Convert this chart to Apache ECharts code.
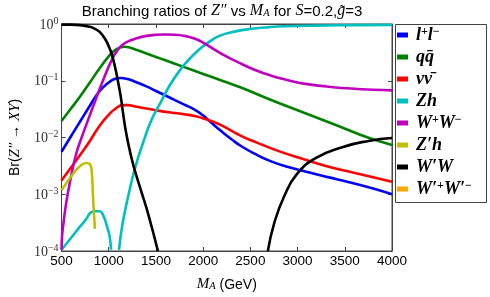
<!DOCTYPE html>
<html>
<head>
<meta charset="utf-8">
<script src="https://cdn.jsdelivr.net/npm/echarts@6/dist/echarts.min.js"></script>
<style>html,body{margin:0;padding:0;background:#fff}#c{width:490px;height:297px}</style>
</head>
<body>
<div id="c"></div>
<script>
// ---- data ----
const seriesNames = ['l+l-', 'qq', 'nn', 'Zh', 'W+W-', "Z'h", "W'W", "W'+W'-"];
const xTicks = [500, 1000, 1500, 2000, 2500, 3000, 3500, 4000];
const yTicks = [1e-4, 1e-3, 1e-2, 1e-1, 1];

const llMass = [500,600,700,800,900,1000,1060,1127,1200,1300,1400,1500,1600,1700,1800,1900,2000,2100,2200,2300,2400,2550,2720,2900,3062,3250,3405,3600,3800,4000];
const llBR   = [0.00562,0.0105,0.0195,0.0363,0.0646,0.0933,0.107,0.112,0.107,0.0933,0.0794,0.0661,0.0550,0.0457,0.0380,0.0316,0.0245,0.0174,0.0126,0.00933,0.00708,0.00513,0.00380,0.00302,0.00257,0.00214,0.00186,0.00155,0.00126,0.00100];

const qqMass = [500,600,700,800,900,1000,1075,1170,1230,1300,1400,1500,1600,1800,2000,2200,2400,2720,3062,3405,3645,3800,4000];
const qqBR   = [0.0195,0.0324,0.0537,0.0933,0.162,0.269,0.355,0.398,0.380,0.347,0.302,0.263,0.229,0.174,0.132,0.100,0.0759,0.0457,0.0275,0.0166,0.0115,0.00933,0.00741];

const nnMass = [500,600,700,800,900,1000,1074,1150,1200,1300,1400,1500,1660,1800,1932,2034,2100,2200,2400,2568,2800,3082,3300,3596,3800,4000];
const nnBR   = [0.00174,0.00295,0.00501,0.00871,0.0158,0.0251,0.0324,0.0372,0.0372,0.0347,0.0324,0.0302,0.0275,0.0257,0.0234,0.0209,0.0191,0.0162,0.0107,0.00813,0.00575,0.00407,0.00316,0.00240,0.00200,0.00166];

const zhMass = [500,596,732,853,900,938,989,1010,1024,1060,1109,1143,1212,1280,1366,1450,1550,1650,1760,1863,1950,2034,2171,2343,2514,2700,2857,3200,3600,4000];
const zhBR   = [0.000105,0.000166,0.000316,0.000501,0.000501,0.000437,0.000245,0.000178,0.000105,'-',0.000105,0.000282,0.00102,0.00295,0.00832,0.0200,0.0417,0.0851,0.158,0.251,0.347,0.447,0.617,0.741,0.822,0.881,0.912,0.938,0.955,0.966];

const wwMass = [500,505,520,545,585,653,722,835,938,1041,1100,1143,1200,1281,1400,1500,1590,1700,1800,1898,1980,2060,2200,2377,2550,2720,2900,3062,3250,3405,3600,3800,4000];
const wwBR   = [0.000105,0.000178,0.000302,0.000631,0.00151,0.00501,0.0110,0.0355,0.100,0.251,0.355,0.427,0.490,0.550,0.617,0.646,0.653,0.646,0.617,0.562,0.490,0.407,0.295,0.209,0.155,0.123,0.102,0.0891,0.0813,0.0759,0.0724,0.0692,0.0676];

const zphMass = [500,596,698,767,801,819,835,853];
const zphBR   = [0.00117,0.00200,0.00316,0.00355,0.00339,0.00257,0.000794,0.000245];

const wpwMass = [500,600,700,800,860,904,960,1007,1040,1075,1100,1127,1150,1177,1212,1250,1290,1350,1418,1521,2100,2685,2754,2857,2990,3196,3473,3751,4000];
const wpwBR   = [0.973,0.973,0.955,0.891,0.813,0.724,0.550,0.380,0.263,0.151,0.0933,0.0525,0.0282,0.0141,0.00708,0.00380,0.00219,0.00105,0.000447,0.000100,'-',0.000100,0.000316,0.000912,0.00224,0.00437,0.00676,0.00871,0.00977];

const wpwpMass = [];
const wpwpBR   = [];

const colors = ['#0000ff', '#008000', '#ff0000', '#00bfbf', '#bf00bf', '#bfbf00', '#000000', '#ffa500'];

// ---- build ----
function zip(a, b) { return a.map((m, i) => [m, b[i]]); }
const dataSets = [zip(llMass, llBR), zip(qqMass, qqBR), zip(nnMass, nnBR), zip(zhMass, zhBR),
                  zip(wwMass, wwBR), zip(zphMass, zphBR), zip(wpwMass, wpwBR), zip(wpwpMass, wpwpBR)];

const legendRich = {
  i: { fontFamily: 'Liberation Serif', fontStyle: 'italic', fontWeight: 'bold', fontSize: 18, lineHeight: 18, verticalAlign: 'bottom', color: '#000' },
  p: { fontFamily: 'Liberation Serif', fontWeight: 'bold', fontSize: 12, lineHeight: 12, verticalAlign: 'top', color: '#000' }
};
const legendText = {
  'l+l-': '{i|l}{p|+}{i|l}{p|−}',
  'qq': '{i|qq̄}',
  'nn': '{i|νν̄}',
  'Zh': '{i|Zh}',
  'W+W-': '{i|W}{p|+}{i|W}{p|−}',
  "Z'h": '{i|Z′h}',
  "W'W": '{i|W′W}',
  "W'+W'-": '{i|W′}{p|+}{i|W′}{p|−}'
};

const sansR = { fontFamily: 'Liberation Sans', fontSize: 15, color: '#000', lineHeight: 18, verticalAlign: 'bottom' };
const serifI = { fontFamily: 'Liberation Serif', fontStyle: 'italic', fontSize: 16, color: '#000', lineHeight: 18, verticalAlign: 'bottom' };
const serifS = { fontFamily: 'Liberation Serif', fontStyle: 'italic', fontSize: 10.5, color: '#000', lineHeight: 12, verticalAlign: 'bottom' };

const chart = echarts.init(document.getElementById('c'), null, { renderer: 'canvas' });
const option = {
  animation: false,
  backgroundColor: '#fff',
  color: colors,
  grid: { left: 51, right: 98, top: 24, bottom: 38, show: true, borderColor: '#444', borderWidth: 1, containLabel: false },
  graphic: [
    { type: 'rect', shape: { x: 395.5, y: 24.5, width: 91, height: 178 }, style: { fill: '#fff', stroke: '#444', lineWidth: 1 }, z: 0 },
    { type: 'text', x: 222, y: 10, style: {
        text: '{r|Branching ratios of }{i|Z″}{r| vs }{i|M}{s|A}{r| for }{i|S}{r|=0.2,}{i|g̃}{r|=3}',
        align: 'center', verticalAlign: 'middle',
        rich: { r: sansR, i: serifI, s: serifS }
      } }
  ],
  legend: {
    orient: 'vertical', left: 397, top: 26, itemWidth: 11, itemHeight: 5, itemGap: 4,
    icon: 'rect', padding: 0, selectedMode: false,
    data: seriesNames,
    formatter: name => legendText[name],
    textStyle: { fontSize: 18, lineHeight: 18, padding: [0, 0, 0, 3], rich: legendRich }
  },
  xAxis: [
    {
      type: 'value', min: 500, max: 4000, interval: 500,
      name: '{i|M}{s|A}{r| (GeV)}', nameLocation: 'middle', nameGap: 23,
      nameTextStyle: { rich: { r: { ...sansR, fontSize: 14 }, i: { ...serifI, fontSize: 15 }, s: serifS } },
      axisLine: { show: true, lineStyle: { color: '#444' } },
      axisTick: { inside: true, length: 4, lineStyle: { color: '#444' } },
      axisLabel: { fontFamily: 'Liberation Sans', fontSize: 13.5, color: '#000', margin: 3, formatter: v => String(v) },
      splitLine: { show: false }
    },
    {
      type: 'value', position: 'top', min: 500, max: 4000, interval: 500,
      axisLine: { show: true, lineStyle: { color: '#444' } },
      axisTick: { inside: true, length: 4, lineStyle: { color: '#444' } },
      axisLabel: { show: false }, splitLine: { show: false }
    }
  ],
  yAxis: [
    {
      type: 'log', logBase: 10, min: 1e-4, max: 1,
      name: '{r|Br(}{i|Z″}{r| → }{i|XY}{r|)}', nameLocation: 'middle', nameGap: 33,
      nameTextStyle: { rich: {
        r: { fontFamily: 'Liberation Sans', fontSize: 14, color: '#000', lineHeight: 18 },
        i: { fontFamily: 'Liberation Serif', fontStyle: 'italic', fontSize: 15, color: '#000', lineHeight: 18 }
      } },
      axisLine: { show: true, lineStyle: { color: '#444' } },
      axisTick: { inside: true, length: 4, lineStyle: { color: '#444' } },
      axisLabel: {
        margin: 3,
        formatter: v => { const e = Math.round(Math.log10(v)); return '{b|10}{s|' + (e === 0 ? '0' : '−' + (-e)) + '}'; },
        rich: {
          b: { fontFamily: 'Liberation Serif', fontSize: 14, color: '#333', lineHeight: 16, verticalAlign: 'bottom' },
          s: { fontFamily: 'Liberation Serif', fontSize: 10, color: '#333', lineHeight: 10, verticalAlign: 'top' }
        }
      },
      splitLine: { show: false }
    },
    {
      type: 'log', logBase: 10, min: 1e-4, max: 1, position: 'right',
      axisLine: { show: true, lineStyle: { color: '#444' } },
      axisTick: { inside: true, length: 4, lineStyle: { color: '#444' } },
      axisLabel: { show: false }, splitLine: { show: false }
    }
  ],
  series: seriesNames.map((n, k) => ({
    name: n, type: 'line', data: dataSets[k], showSymbol: false, symbol: 'none',
    smooth: 0.5, connectNulls: false, clip: true,
    lineStyle: { width: 2.6, color: colors[k] }, itemStyle: { color: colors[k] }
  }))
};
chart.setOption(option);
</script>
</body>
</html>
